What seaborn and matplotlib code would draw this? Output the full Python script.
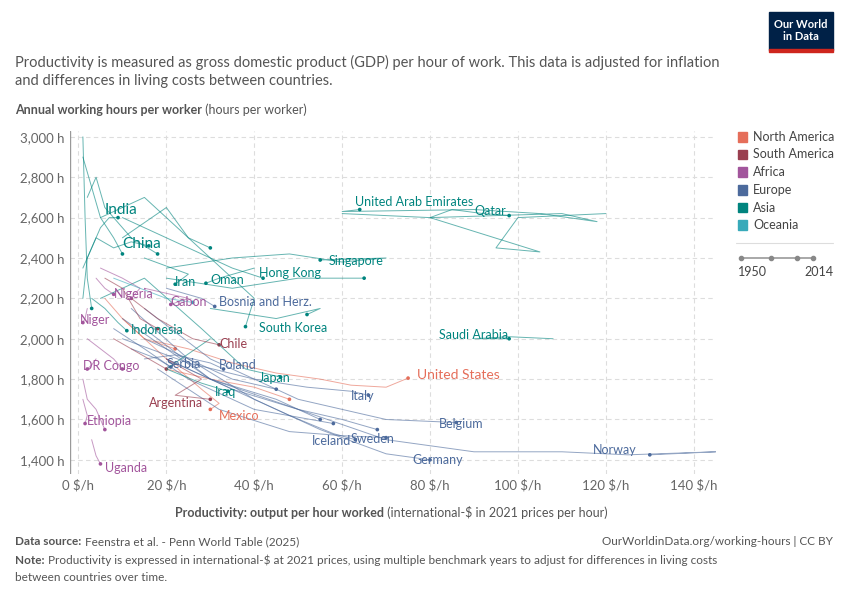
import pandas as pd
import seaborn as sns
import matplotlib.pyplot as plt
from matplotlib.patches import Rectangle
from matplotlib.lines import Line2D

sns.set_theme(style="white")
plt.rcParams['font.family'] = ['Lato', 'DejaVu Sans']

regions = ["North America", "South America", "Africa", "Europe", "Asia", "Oceania"]
region_colors = ["#e56e5a", "#9a3f50", "#a2559c", "#4c6a9c", "#00847e", "#38aaba"]

# labelled countries: productivity ($/h) path and hours path
usa_x = [17, 25, 35, 45, 55, 62, 70, 75]
usa_y = [1990, 1950, 1880, 1830, 1800, 1770, 1760, 1805]
norway_x = [15, 30, 50, 70, 90, 110, 125, 145, 130]
norway_y = [2050, 1800, 1650, 1500, 1440, 1440, 1425, 1440, 1425]
germany_x = [12, 25, 40, 55, 70, 80]
germany_y = [2150, 1900, 1700, 1550, 1430, 1400]
iceland_x = [20, 35, 48, 58, 63]
iceland_y = [1900, 1750, 1620, 1530, 1500]
sweden_x = [18, 32, 48, 60, 70]
sweden_y = [1850, 1650, 1540, 1520, 1510]
belgium_x = [15, 30, 50, 70, 86]
belgium_y = [2150, 1900, 1700, 1600, 1585]
italy_x = [10, 25, 40, 52, 62, 66]
italy_y = [2000, 1880, 1800, 1760, 1740, 1720]
japan_x = [5, 15, 28, 38, 46]
japan_y = [2200, 2300, 2050, 1850, 1810]
iraq_x = [30, 20, 28, 34]
iraq_y = [2000, 1850, 1780, 1740]
poland_x = [15, 22, 30, 33]
poland_y = [1900, 1920, 1880, 1850]
serbia_x = [12, 18, 21]
serbia_y = [1950, 1900, 1860]
mexico_x = [10, 20, 28, 32, 30]
mexico_y = [2100, 1900, 1750, 1680, 1650]
argentina_x = [20, 28, 22, 30]
argentina_y = [1900, 1800, 1720, 1700]
chile_x = [12, 18, 26, 32]
chile_y = [2200, 2100, 2000, 1970]
drcongo_x = [4, 3, 2]
drcongo_y = [1900, 1870, 1850]
ethiopia_x = [1, 2, 1.5]
ethiopia_y = [1700, 1620, 1580]
uganda_x = [3, 4, 5]
uganda_y = [1500, 1420, 1380]
niger_x = [2, 1.5, 1]
niger_y = [2150, 2100, 2080]
nigeria_x = [4, 6, 8]
nigeria_y = [2300, 2250, 2220]
gabon_x = [15, 25, 21]
gabon_y = [2250, 2200, 2170]
indonesia_x = [3, 6, 9, 11]
indonesia_y = [2200, 2150, 2080, 2040]
iran_x = [15, 25, 22]
iran_y = [2400, 2320, 2270]
oman_x = [40, 32, 29]
oman_y = [2350, 2300, 2275]
hongkong_x = [10, 25, 35, 42]
hongkong_y = [2600, 2450, 2350, 2300]
bosnia_x = [20, 28, 31]
bosnia_y = [2250, 2200, 2160]
skorea_x = [5, 15, 30, 40, 38]
skorea_y = [2600, 2700, 2400, 2200, 2060]
singapore_x = [20, 35, 48, 60, 70, 55]
singapore_y = [2350, 2400, 2420, 2380, 2400, 2390]
uae_x = [60, 80, 110, 118, 105, 90, 60, 64]
uae_y = [2620, 2600, 2620, 2580, 2620, 2640, 2630, 2640]
qatar_x = [120, 100, 95, 105, 80, 85, 92, 98]
qatar_y = [2620, 2600, 2450, 2430, 2600, 2640, 2620, 2610]
saudi_x = [108, 98, 90, 98]
saudi_y = [2000, 2010, 2000, 2000]
india_x = [1, 3, 5, 7, 9]
india_y = [2350, 2450, 2550, 2600, 2600]
china_x = [1, 2, 4, 8, 12, 16]
china_y = [2200, 2400, 2500, 2450, 2480, 2460]

labelled = [
    ("United States", "North America", usa_x, usa_y, 77, 1790, 10),
    ("Norway", "Europe", norway_x, norway_y, 117, 1420, 9),
    ("Germany", "Europe", germany_x, germany_y, 76, 1370, 9),
    ("Iceland", "Europe", iceland_x, iceland_y, 53, 1465, 9),
    ("Sweden", "Europe", sweden_x, sweden_y, 62, 1475, 9),
    ("Belgium", "Europe", belgium_x, belgium_y, 82, 1550, 9),
    ("Italy", "Europe", italy_x, italy_y, 62, 1685, 9),
    ("Japan", "Asia", japan_x, japan_y, 41, 1775, 9),
    ("Iraq", "Asia", iraq_x, iraq_y, 31, 1705, 9),
    ("Poland", "Europe", poland_x, poland_y, 32, 1840, 9),
    ("Serbia", "Europe", serbia_x, serbia_y, 20, 1845, 9),
    ("Mexico", "North America", mexico_x, mexico_y, 32, 1590, 9),
    ("Argentina", "South America", argentina_x, argentina_y, 16, 1650, 9),
    ("Chile", "South America", chile_x, chile_y, 32, 1945, 9),
    ("DR Congo", "Africa", drcongo_x, drcongo_y, 1, 1835, 9),
    ("Ethiopia", "Africa", ethiopia_x, ethiopia_y, 2, 1565, 9),
    ("Uganda", "Africa", uganda_x, uganda_y, 6, 1330, 9),
    ("Niger", "Africa", niger_x, niger_y, 0.3, 2065, 9),
    ("Nigeria", "Africa", nigeria_x, nigeria_y, 8, 2190, 9),
    ("Gabon", "Africa", gabon_x, gabon_y, 21, 2150, 9),
    ("Indonesia", "Asia", indonesia_x, indonesia_y, 12, 2015, 9),
    ("Iran", "Asia", iran_x, iran_y, 22, 2250, 9),
    ("Oman", "Asia", oman_x, oman_y, 30, 2260, 9),
    ("Hong Kong", "Asia", hongkong_x, hongkong_y, 41, 2295, 9),
    ("Bosnia and Herz.", "Europe", bosnia_x, bosnia_y, 32, 2150, 9),
    ("South Korea", "Asia", skorea_x, skorea_y, 41, 2025, 9),
    ("Singapore", "Asia", singapore_x, singapore_y, 57, 2355, 9),
    ("United Arab Emirates", "Asia", uae_x, uae_y, 63, 2650, 9),
    ("Qatar", "Asia", qatar_x, qatar_y, 90, 2605, 9),
    ("Saudi Arabia", "Asia", saudi_x, saudi_y, 82, 1990, 9),
    ("India", "Asia", india_x, india_y, 6, 2605, 11),
    ("China", "Asia", china_x, china_y, 10, 2435, 11),
]

# a few unlabelled background countries
others = [
    ("Asia", [1, 3, 5, 8, 10], [2900, 2750, 2600, 2500, 2420]),
    ("Asia", [2, 4, 6, 12, 18], [2700, 2800, 2650, 2500, 2420]),
    ("Asia", [10, 20, 25, 30], [2500, 2650, 2500, 2450]),
    ("Asia", [1, 1.5, 2, 3], [3000, 2600, 2300, 2150]),
    ("Oceania", [8, 14, 20, 26], [2300, 2250, 2200, 2180]),
    ("Africa", [2, 5, 8, 10], [2000, 1950, 1900, 1850]),
    ("Africa", [1, 2, 4, 6], [1800, 1700, 1650, 1550]),
    ("Africa", [5, 10, 14, 12], [2350, 2300, 2250, 2200]),
    ("South America", [6, 10, 14, 18], [2300, 2250, 2100, 2050]),
    ("South America", [8, 12, 16, 20], [2000, 1950, 1900, 1850]),
    ("North America", [6, 10, 15, 22], [2200, 2100, 2000, 1950]),
    ("North America", [20, 30, 40, 48], [1850, 1800, 1760, 1700]),
    ("Europe", [10, 20, 30, 45, 55], [2100, 1950, 1800, 1700, 1600]),
    ("Europe", [8, 15, 25, 40, 58], [2050, 1950, 1800, 1650, 1580]),
    ("Europe", [20, 35, 50, 60, 68], [1900, 1750, 1650, 1600, 1550]),
    ("Europe", [15, 25, 35, 45], [2000, 1900, 1800, 1750]),
    ("Asia", [30, 45, 55, 52], [2150, 2100, 2150, 2120]),
    ("Asia", [20, 35, 50, 65], [2300, 2250, 2300, 2300]),
]

rows = []
for name, reg, xs, ys, *_ in labelled:
    for i, (x, y) in enumerate(zip(xs, ys)):
        rows.append((name, reg, i, x, y))
for k, (reg, xs, ys) in enumerate(others):
    for i, (x, y) in enumerate(zip(xs, ys)):
        rows.append((f"other{k}", reg, i, x, y))
df = pd.DataFrame(rows, columns=["country", "region", "step", "prod", "hours"])
palette = dict(zip(regions, region_colors))

fig = plt.figure(figsize=(8.5, 6), dpi=100)
ax = fig.add_axes([0.082, 0.21, 0.76, 0.572])
sns.lineplot(data=df, x="prod", y="hours", hue="region", units="country",
             estimator=None, sort=False, palette=palette, linewidth=0.7,
             alpha=0.6, legend=False, ax=ax)
ends = df.sort_values("step").groupby("country").tail(1)
sns.scatterplot(data=ends, x="prod", y="hours", hue="region", palette=palette,
                s=7, linewidth=0, legend=False, ax=ax)
for name, reg, xs, ys, lx, ly, fs in labelled:
    ax.text(lx, ly, name, color=palette[reg], fontsize=fs, va="bottom", ha="left")

ax.set_xlim(-2, 145)
ax.set_ylim(1330, 3030)
ax.set_xticks(range(0, 141, 20))
ax.set_xticklabels([f"{v} $/h" for v in range(0, 141, 20)])
ax.set_yticks(range(1400, 3001, 200))
ax.set_yticklabels([f"{v:,} h" for v in range(1400, 3001, 200)])
ax.tick_params(labelsize=9.5, colors="#666666", length=0)
ax.grid(True, linestyle=(0, (4, 3)), color="#dddddd", linewidth=0.8)
for s in ax.spines.values():
    s.set_visible(False)
ax.axvline(-2, color="#999999", linewidth=1)
ax.set_xlabel("")
ax.set_ylabel("")

renderer = fig.canvas.get_renderer()


def two_part(x, y, bold, rest, ha="left", **kw):
    # bold lead-in followed by regular text on the same line
    t1 = fig.text(x, y, bold, fontweight="bold", **kw)
    w1 = t1.get_window_extent(renderer).width / fig.bbox.width
    t2 = fig.text(x + w1, y, rest, **kw)
    if ha == "center":
        w2 = t2.get_window_extent(renderer).width / fig.bbox.width
        shift = (w1 + w2) / 2
        t1.set_x(x - shift)
        t2.set_x(x - shift + w1)
    return t1, t2


two_part(0.46, 0.138, "Productivity: output per hour worked",
         " (international-$ in 2021 prices per hour)", ha="center",
         fontsize=9, color="#555555")
two_part(0.018, 0.81, "Annual working hours per worker", " (hours per worker)",
         fontsize=9, color="#555555")

fig.text(0.018, 0.858, "Productivity is measured as gross domestic product (GDP) per hour of work. This data is adjusted for inflation\n"
         "and differences in living costs between countries.", fontsize=10.5,
         color="#555555", linespacing=1.4)

# legend on the right
for i, (reg, col) in enumerate(zip(regions, region_colors)):
    yy = 0.772 - i * 0.0295
    fig.patches.append(Rectangle((0.868, yy - 0.008), 0.011, 0.016,
                                 transform=fig.transFigure, color=col))
    fig.text(0.886, yy, reg, fontsize=9, va="center", color="#444444")
fig.add_artist(Line2D([0.866, 0.98], [0.595, 0.595], color="#dddddd", lw=0.8))
fig.add_artist(Line2D([0.872, 0.957], [0.57, 0.57], color="#999999", lw=1.2))
for xx in [0.872, 0.907, 0.938, 0.957]:
    fig.add_artist(Line2D([xx], [0.57], marker="o", markersize=3,
                          color="#888888"))
fig.text(0.868, 0.54, "1950", fontsize=9, color="#444444")
fig.text(0.946, 0.54, "2014", fontsize=9, color="#444444")

# logo
fig.patches.append(Rectangle((0.905, 0.917), 0.075, 0.063,
                             transform=fig.transFigure, color="#002147"))
fig.patches.append(Rectangle((0.905, 0.913), 0.075, 0.005,
                             transform=fig.transFigure, color="#ce261e"))
fig.text(0.9425, 0.949, "Our World\nin Data", ha="center", va="center",
         fontsize=8, color="white", fontweight="bold", linespacing=1.1)

two_part(0.018, 0.092, "Data source:", " Feenstra et al. - Penn World Table (2025)",
         fontsize=8.5, color="#555555")
fig.text(0.98, 0.092, "OurWorldinData.org/working-hours | CC BY", fontsize=8.5,
         color="#555555", ha="right")
two_part(0.018, 0.075, "Note:", " Productivity is expressed in international-$ at 2021 prices, using multiple benchmark years to adjust for differences in living costs",
         fontsize=8.5, color="#555555", va="top")
fig.text(0.018, 0.047, "between countries over time.", fontsize=8.5,
         color="#555555", va="top")

fig.savefig("out.png", dpi=100)
